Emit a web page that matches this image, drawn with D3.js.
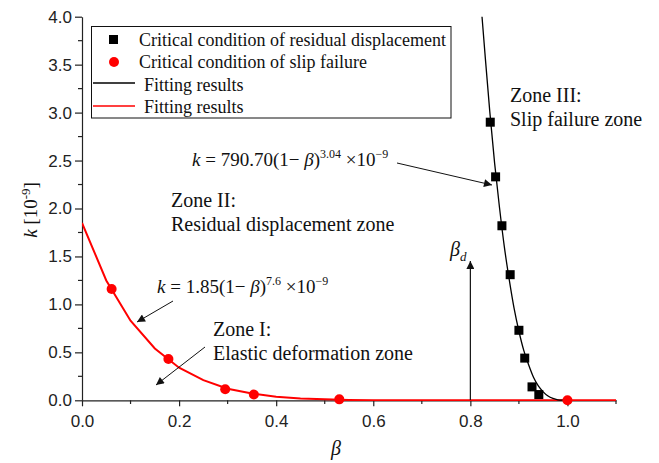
<!DOCTYPE html>
<html>
<head>
<meta charset="utf-8">
<script src="https://cdnjs.cloudflare.com/ajax/libs/d3/7.8.5/d3.min.js"></script>
<style>
  body { margin: 0; background: #fff; }
  .tick text { font-family: "Liberation Sans", Arial, sans-serif; font-size: 17px; fill: #222; }
  .lbl { font-family: "Liberation Serif", "Times New Roman", serif; font-size: 17px; fill: #111; }
</style>
</head>
<body>
<script>
var resBeta = [0.841, 0.852, 0.865, 0.882, 0.900, 0.912, 0.927, 0.941];
var resK    = [2.90, 2.33, 1.82, 1.31, 0.73, 0.44, 0.14, 0.06];
var slipBeta = [0.061, 0.178, 0.295, 0.354, 0.530, 1.0];
var slipK    = [1.16, 0.43, 0.115, 0.06, 0.01, 0.0];
// fitted curves (sampled values)
var fitResBeta = [0.824, 0.83, 0.84, 0.85, 0.86, 0.87, 0.88, 0.89, 0.90, 0.91, 0.92, 0.93, 0.94, 0.95, 0.96, 0.97, 0.98, 0.99, 1.0];
var fitResK    = [4.0, 3.62, 3.01, 2.47, 2.01, 1.60, 1.26, 0.96, 0.72, 0.52, 0.37, 0.24, 0.15, 0.088, 0.044, 0.019, 0.005, 0.001, 0.0];
var fitSlipBeta = [0, 0.05, 0.1, 0.15, 0.2, 0.25, 0.3, 0.35, 0.4, 0.45, 0.5, 0.55, 0.6, 0.65, 0.7, 0.75, 0.8, 0.85, 0.9, 0.95, 1.0, 1.05, 1.1];
var fitSlipK    = [1.85, 1.25, 0.83, 0.54, 0.34, 0.21, 0.12, 0.07, 0.038, 0.02, 0.01, 0.004, 0.0015, 0.0005, 0, 0, 0, 0, 0, 0, 0, 0, 0];
var xTicks = [0, 0.2, 0.4, 0.6, 0.8, 1.0];
var yTicks = [0, 0.5, 1.0, 1.5, 2.0, 2.5, 3.0, 3.5, 4.0];

var W = 659, H = 463;
var svg = d3.select("body").append("svg").attr("width", W).attr("height", H);

var x = d3.scaleLinear().domain([0, 1.1]).range([82, 616]);
var y = d3.scaleLinear().domain([0, 4]).range([400.3, 16.7]);

var defs = svg.append("defs");
defs.append("marker").attr("id", "ah")
  .attr("viewBox", "0 0 10 10").attr("refX", 10).attr("refY", 5)
  .attr("markerWidth", 12).attr("markerHeight", 8).attr("markerUnits", "userSpaceOnUse")
  .attr("orient", "auto")
  .append("path").attr("d", "M0,0 L10,5 L0,10 Z").attr("fill", "#111");
defs.append("clipPath").attr("id", "clip").append("rect")
  .attr("x", 82).attr("y", 16).attr("width", 534).attr("height", 385);

// axes
var xAxis = d3.axisBottom(x).tickValues(xTicks).tickFormat(d3.format(".1f")).tickSize(6).tickSizeOuter(0);
var gx = svg.append("g").attr("transform", "translate(0,400.3)").call(xAxis);
gx.selectAll(".tick text").attr("dy", "1.05em");
var yAxis = d3.axisLeft(y).tickValues(yTicks).tickFormat(d3.format(".1f")).tickSize(7).tickSizeOuter(0);
var gy = svg.append("g").attr("transform", "translate(82,0)").call(yAxis);
gy.selectAll(".tick text").attr("x", -10);
svg.selectAll(".domain, .tick line").attr("stroke", "#222").attr("stroke-width", 1.2);

// minor ticks
svg.append("g").selectAll("line").data(d3.range(0.1, 1.15, 0.2)).enter().append("line")
  .attr("x1", d => x(d)).attr("x2", d => x(d)).attr("y1", 400.3).attr("y2", 404)
  .attr("stroke", "#222").attr("stroke-width", 1.2);
svg.append("g").selectAll("line").data(d3.range(0.25, 4, 0.5)).enter().append("line")
  .attr("x1", 78).attr("x2", 82).attr("y1", d => y(d)).attr("y2", d => y(d))
  .attr("stroke", "#222").attr("stroke-width", 1.2);

// axis titles
svg.append("text").attr("class", "lbl").attr("x", 336).attr("y", 455)
  .attr("text-anchor", "middle").style("font-style", "italic").style("font-size", "20px").text("β");
var yt = svg.append("text").attr("class", "lbl").attr("transform", "translate(37,210) rotate(-90)")
  .attr("text-anchor", "middle").style("font-size", "19px");
yt.append("tspan").style("font-style", "italic").text("k");
yt.append("tspan").text("  [10");
yt.append("tspan").attr("dy", -7).style("font-size", "13px").text("-9");
yt.append("tspan").attr("dy", 7).text("]");

var plot = svg.append("g").attr("clip-path", "url(#clip)");

// fitted curves
var line = d3.line().x(d => x(d[0])).y(d => y(d[1]));
plot.append("path").datum(d3.zip(fitSlipBeta, fitSlipK)).attr("d", line)
  .attr("fill", "none").attr("stroke", "#f00").attr("stroke-width", 2);
plot.append("path").datum(d3.zip(fitResBeta, fitResK)).attr("d", line.curve(d3.curveMonotoneX))
  .attr("fill", "none").attr("stroke", "#000").attr("stroke-width", 1.3);

// markers
var sq = 9;
svg.append("g").selectAll("rect").data(d3.zip(resBeta, resK)).enter().append("rect")
  .attr("x", d => x(d[0]) - sq / 2).attr("y", d => y(d[1]) - sq / 2)
  .attr("width", sq).attr("height", sq).attr("fill", "#000");
svg.append("g").selectAll("circle").data(d3.zip(slipBeta, slipK)).enter().append("circle")
  .attr("cx", d => x(d[0])).attr("cy", d => y(d[1])).attr("r", 5).attr("fill", "#f00");

// beta_d arrow
svg.append("line").attr("x1", x(0.8)).attr("x2", x(0.8)).attr("y1", 400).attr("y2", 261)
  .attr("stroke", "#111").attr("stroke-width", 1.2).attr("marker-end", "url(#ah)");
var bd = svg.append("text").attr("class", "lbl").attr("x", 450).attr("y", 256).style("font-size", "20px");
bd.append("tspan").style("font-style", "italic").text("β");
bd.append("tspan").attr("dy", 5).style("font-style", "italic").style("font-size", "13px").text("d");

// annotation arrows
function arrow(x1, y1, x2, y2) {
  svg.append("line").attr("x1", x1).attr("y1", y1).attr("x2", x2).attr("y2", y2)
    .attr("stroke", "#111").attr("stroke-width", 1).attr("marker-end", "url(#ah)");
}
arrow(397, 163, 492, 185);
arrow(173, 301, 137, 322);
arrow(205, 347, 156, 385);

// formula texts
function formula(xp, yp, coef, expo) {
  var t = svg.append("text").attr("class", "lbl").attr("x", xp).attr("y", yp).style("font-size", "19px");
  t.append("tspan").style("font-style", "italic").text("k");
  t.append("tspan").text(" = " + coef + "(1− ");
  t.append("tspan").style("font-style", "italic").text("β");
  t.append("tspan").text(")");
  t.append("tspan").attr("dy", -8).style("font-size", "12px").text(expo);
  t.append("tspan").attr("dy", 8).text(" ×10");
  t.append("tspan").attr("dy", -8).style("font-size", "12px").text("−9");
}
formula(192, 166, "790.70", "3.04");
formula(157, 293, "1.85", "7.6");

// zone labels
function zone(xp, yp, l1, l2) {
  svg.append("text").attr("class", "lbl").attr("x", xp).attr("y", yp).style("font-size", "20px").text(l1);
  svg.append("text").attr("class", "lbl").attr("x", xp).attr("y", yp + 24).style("font-size", "20px").text(l2);
}
zone(510, 102, "Zone III:", "Slip failure zone");
zone(171, 207, "Zone II:", "Residual displacement zone");
zone(213, 336, "Zone I:", "Elastic deformation zone");

// legend
var lg = svg.append("g");
lg.append("rect").attr("x", 91.5).attr("y", 26.5).attr("width", 359.5).attr("height", 91.5)
  .attr("fill", "#fff").attr("stroke", "#111").attr("stroke-width", 1);
lg.append("rect").attr("x", 109).attr("y", 35).attr("width", sq).attr("height", sq).attr("fill", "#000");
lg.append("circle").attr("cx", 114).attr("cy", 62).attr("r", 5).attr("fill", "#f00");
lg.append("line").attr("x1", 93).attr("x2", 135).attr("y1", 83).attr("y2", 83).attr("stroke", "#000").attr("stroke-width", 1.3);
lg.append("line").attr("x1", 93).attr("x2", 135).attr("y1", 106).attr("y2", 106).attr("stroke", "#f00").attr("stroke-width", 1.5);
var lgText = ["Critical condition of residual displacement", "Critical condition of slip failure", "Fitting results", "Fitting results"];
var lgX = [139, 139, 144, 144];
lg.selectAll("text.lt").data(lgText).enter().append("text").attr("class", "lbl lt")
  .attr("x", (d, i) => lgX[i]).attr("y", (d, i) => 45.5 + i * 22.5).style("font-size", "18px").text(d => d);
</script>
</body>
</html>
